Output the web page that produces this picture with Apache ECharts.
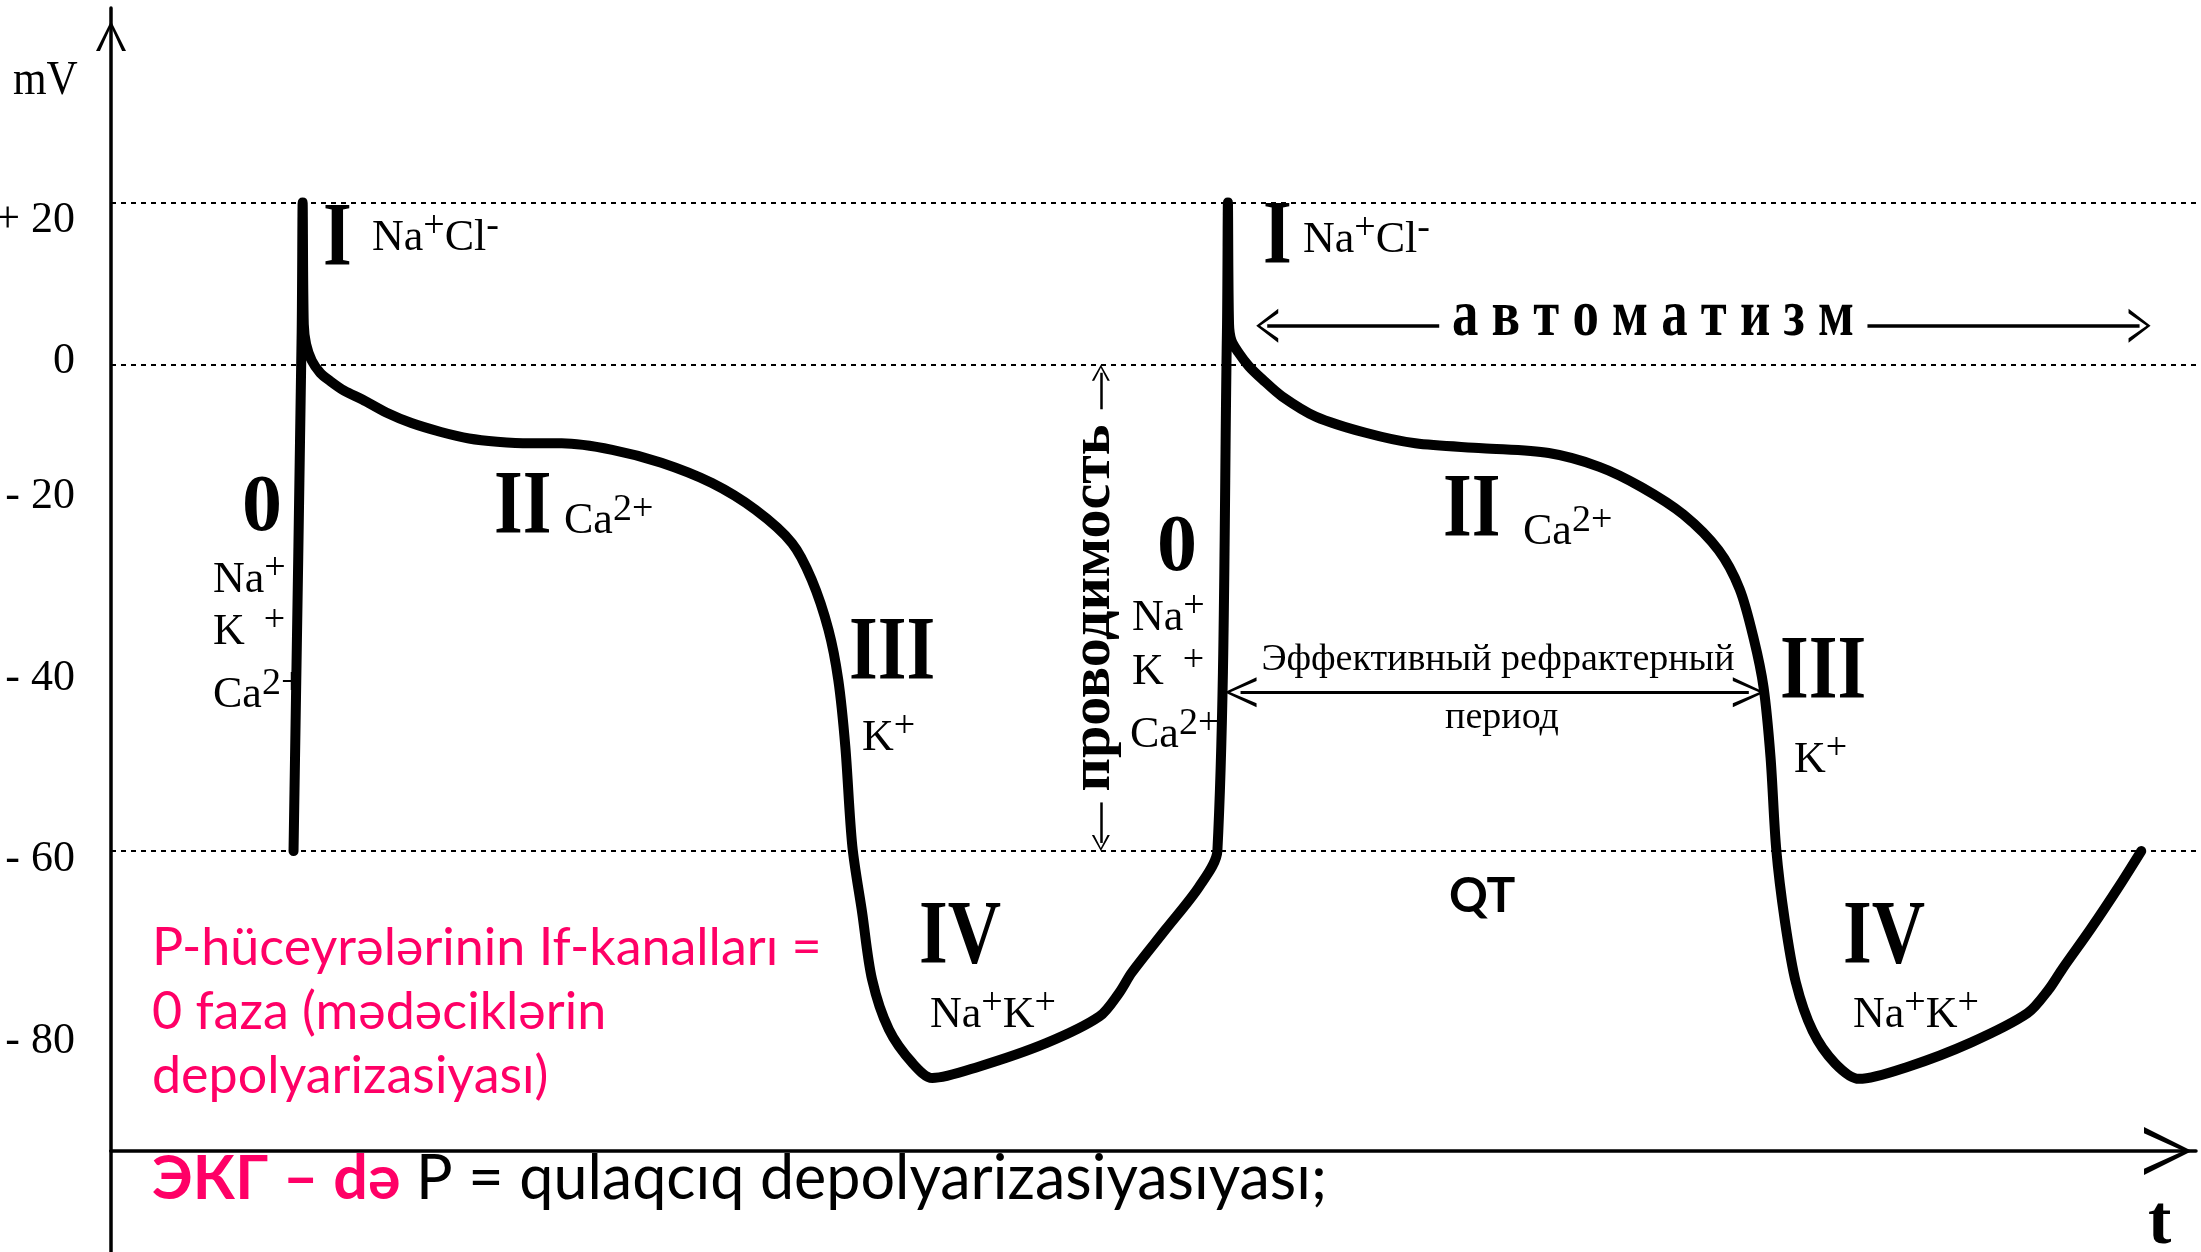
<!DOCTYPE html>
<html>
<head>
<meta charset="utf-8">
<script src="https://cdn.jsdelivr.net/npm/echarts@6/dist/echarts.min.js"></script>
<style>
  html, body { margin: 0; padding: 0; background: #fff; }
  #chart { width: 2201px; height: 1252px; }
</style>
</head>
<body>
<div id="chart"></div>
<script>
// first action potential (time in arbitrary units, membrane potential in mV)
const cycle1Time = [130, 135.8, 136.5, 137.3, 139, 143, 149, 156, 166, 179, 196, 214, 235, 255, 275, 298, 321, 357, 392, 428, 459, 485, 499, 511, 518, 523, 528, 535, 542, 554, 571, 585, 618, 666, 704, 718, 727, 751, 775, 788];
const cycle1Mv = [-60, 4, 20, 5, 2.5, 0.5, -1, -2, -3.2, -4.3, -5.9, -7.2, -8.3, -9.1, -9.5, -9.7, -9.7, -10.5, -12.1, -14.6, -17.9, -22, -26.5, -32.7, -38.9, -47.1, -59.4, -67.6, -75.8, -82, -86.2, -88, -86.6, -83.7, -80.4, -77.5, -75, -69.7, -64.4, -60];

// second action potential
const cycle2Time = [788, 794.8, 795.5, 796.3, 798, 803, 810.5, 820, 834, 858, 893.6, 929, 976.7, 1024, 1060, 1090, 1120, 1145, 1160, 1170, 1177, 1182, 1186, 1192, 1200, 1212, 1228, 1245, 1280, 1325, 1365, 1380, 1390, 1410, 1430, 1446];
const cycle2Mv = [-60, 4, 20, 5, 3, 1.5, -0.2, -1.8, -3.9, -6.4, -8.4, -9.7, -10.3, -10.9, -12.6, -15.1, -18.5, -22.9, -27.7, -33.8, -39.8, -48.5, -59.7, -68.4, -76.2, -82.2, -86.2, -88.1, -86.6, -83.6, -80, -77.1, -74.5, -69.6, -64.4, -60];

const yTicks = [-80, -60, -40, -20, 0, 20];
const refLevels = [20, 0, -60];

// annotation arrows (data units)
const refractory = { from: 804.5, to: 1166.5, mv: -40.4 };
const automatism = { leftTip: 823.5, leftEnd: 946, rightStart: 1251, rightTip: 1444.8, mv: 4.8 };
const conduction = { t: 705, topFrom: -5.5, topTo: -1, bottomFrom: -54, bottomTo: -59 };

const SERIF = '"Liberation Serif", "Times New Roman", serif';
const SANS = 'Lato, "Open Sans", sans-serif';
const PINK = '#ff0066';
const CHEVRON = 'path://M50,0 L100,100 L87,100 L50,18 L13,100 L0,100 Z';

// the hand-drawn tick labels sit a little off their grid values (px, + is down)
const labelNudge = { '20': 18, '0': -3, '-20': -30, '-40': -10, '-60': 8, '-80': 28 };

const trace = cycle1Time.map((t, i) => [t, cycle1Mv[i]])
  .concat(cycle2Time.map((t, i) => [t, cycle2Mv[i]]));

const tickRich = {};
yTicks.forEach(v => {
  const d = labelNudge[String(v)] || 0;
  tickRich['t' + (v < 0 ? 'm' + (-v) : v)] = {
    fontSize: 44, fontFamily: SERIF, color: '#000',
    padding: d >= 0 ? [2 * d, 0, 0, 0] : [0, 0, -2 * d, 0]
  };
});
function tickLabel(v) {
  const txt = v > 0 ? '+ ' + v : (v < 0 ? '- ' + (-v) : '0');
  return '{t' + (v < 0 ? 'm' + (-v) : v) + '|' + txt + '}';
}

function txt(text, x, baseline, size, family, weight, align, extra) {
  const k = family === SANS ? 0.39 : 0.34;
  return Object.assign({
    type: 'text', x: x, y: baseline - k * size, silent: true,
    style: {
      text: text, fontSize: size, fontFamily: family, fontWeight: weight || 'normal',
      fill: '#000', textAlign: align || 'left', textVerticalAlign: 'middle'
    }
  }, extra || {});
}

const ionRich = {
  m: { fontSize: 44, fontFamily: SERIF, lineHeight: 60, fill: '#000' },
  s: { fontSize: 38, fontFamily: SERIF, lineHeight: 20, verticalAlign: 'top', fill: '#000' },
  h: { fontSize: 38, fontFamily: SERIF, lineHeight: 2, verticalAlign: 'top', fill: '#000' }
};
function ion(text, x, baseline) {
  return {
    type: 'text', x: x, y: baseline + 15, silent: true,
    style: { text: text, rich: ionRich, textAlign: 'left', textVerticalAlign: 'bottom' }
  };
}
function roman(text, x, baseline) {
  return txt(text, x, baseline, 90, SERIF, 'bold', 'left', { scaleX: 0.82 });
}

const graphics = [
  // y axis continues below the time axis
  { type: 'line', silent: true, shape: { x1: 111, y1: 1150, x2: 111, y2: 1252 }, style: { stroke: '#000', lineWidth: 3.5 } },
  txt('mV', 13, 98, 48, SERIF, 'normal', 'left', { scaleX: 0.9 }),
  txt('t', 2148, 1249, 70, SERIF, 'bold'),

  roman('I', 323, 272), roman('I', 1263, 270),
  roman('II', 494, 540), roman('II', 1443, 543),
  roman('III', 849, 686), roman('III', 1780, 705),
  roman('IV', 919, 970), roman('IV', 1843, 970),
  txt('0', 242, 537, 80, SERIF, 'bold'),
  txt('0', 1157, 577, 80, SERIF, 'bold'),

  ion('{m|Na}{s|+}{m|Cl}{s|-}', 372, 253),
  ion('{m|Na}{s|+}{m|Cl}{s|-}', 1303, 255),
  ion('{m|Na}{s|+}', 213, 595), ion('{m|K}{s|  +}', 213, 647), ion('{m|Ca}{h|2+}', 213, 710),
  ion('{m|Na}{s|+}', 1132, 633), ion('{m|K}{s|  +}', 1132, 687), ion('{m|Ca}{h|2+}', 1130, 750),
  ion('{m|Ca}{h|2+}', 564, 536), ion('{m|Ca}{h|2+}', 1523, 547),
  ion('{m|K}{h|+}', 862, 753), ion('{m|K}{h|+}', 1794, 775),
  ion('{m|Na}{s|+}{m|K}{s|+}', 930, 1030), ion('{m|Na}{s|+}{m|K}{s|+}', 1853, 1030),

  txt('а в т о м а т и з м', 1653, 340, 66, SERIF, 'bold', 'center', { scaleX: 0.8 }),
  txt('Эффективный рефрактерный', 1498, 673, 38, SERIF, 'normal', 'center'),
  txt('период', 1502, 731, 38, SERIF, 'normal', 'center'),
  {
    type: 'text', x: 1094, y: 608, rotation: Math.PI / 2, silent: true,
    style: {
      text: 'проводимость', fontSize: 58, fontFamily: SERIF, fontWeight: 'bold', fill: '#000',
      textAlign: 'center', textVerticalAlign: 'middle'
    }
  },
  txt('QT', 1449, 915, 48, SANS, 'bold'),
  {
    type: 'text', x: 152, y: 916, silent: true,
    style: {
      text: 'P-hüceyrələrinin If-kanalları =\n0 faza (mədəciklərin\ndepolyarizasiyası)',
      fontSize: 52, fontFamily: SANS, fill: PINK, lineHeight: 64,
      textAlign: 'left', textVerticalAlign: 'top'
    }
  },
  {
    type: 'text', x: 152, y: 1203 - 0.39 * 61, silent: true,
    style: {
      text: '{p|ЭКГ – də}{k| P = qulaqcıq depolyarizasiyasıyası;}',
      rich: {
        p: { fontSize: 61, fontFamily: SANS, fontWeight: 'bold', fill: PINK },
        k: { fontSize: 61, fontFamily: SANS, fill: '#000' }
      },
      textAlign: 'left', textVerticalAlign: 'middle'
    }
  }
];

const solid = w => ({ type: 'solid', width: w, color: '#000' });
const markLines = refLevels.map(v => ({
  yAxis: v, lineStyle: { type: [5, 5], width: 2, color: '#000' }
})).concat([
  [
    { coord: [refractory.from, refractory.mv], symbol: CHEVRON, symbolSize: [30, 32], lineStyle: solid(3) },
    { coord: [refractory.to, refractory.mv], symbol: CHEVRON, symbolSize: [30, 32] }
  ],
  [
    { coord: [automatism.leftTip, automatism.mv], symbol: CHEVRON, symbolSize: [34, 22], lineStyle: solid(3.5) },
    { coord: [automatism.leftEnd, automatism.mv], symbol: 'none' }
  ],
  [
    { coord: [automatism.rightStart, automatism.mv], symbol: 'none', lineStyle: solid(3.5) },
    { coord: [automatism.rightTip, automatism.mv], symbol: CHEVRON, symbolSize: [34, 22] }
  ],
  [
    { coord: [conduction.t, conduction.topFrom], symbol: 'none', lineStyle: solid(2.5) },
    { coord: [conduction.t, conduction.topTo], symbol: CHEVRON, symbolSize: [18, 16] }
  ],
  [
    { coord: [conduction.t, conduction.bottomFrom], symbol: 'none', lineStyle: solid(2.5) },
    { coord: [conduction.t, conduction.bottomTo], symbol: CHEVRON, symbolSize: [18, 16] }
  ]
]);

const chart = echarts.init(document.getElementById('chart'));
chart.setOption({
  backgroundColor: '#fff',
  animation: false,
  grid: { left: 111, right: 5, top: 8, bottom: 101, containLabel: false, outerBoundsMode: 'none' },
  xAxis: {
    type: 'value', min: 0, max: 1485,
    axisLine: {
      onZero: false,
      lineStyle: { color: '#000', width: 3.5 },
      symbol: ['none', CHEVRON], symbolSize: [48, 56], symbolOffset: [0, -28]
    },
    axisTick: { show: false }, axisLabel: { show: false }, splitLine: { show: false }
  },
  yAxis: {
    type: 'value', min: -97, max: 44,
    axisLine: {
      show: true, onZero: false,
      lineStyle: { color: '#000', width: 3.5 },
      symbol: ['none', CHEVRON], symbolSize: [30, 56], symbolOffset: [0, -28]
    },
    axisTick: { show: false }, splitLine: { show: false },
    axisLabel: {
      customValues: yTicks,
      margin: 36, color: '#000', fontSize: 44, fontFamily: SERIF,
      formatter: tickLabel,
      rich: tickRich
    }
  },
  series: [{
    type: 'line',
    data: trace,
    showSymbol: false,
    smooth: 0.3,
    lineStyle: { color: '#000', width: 10, join: 'round', cap: 'round' },
    markLine: { silent: true, symbol: 'none', animation: false, label: { show: false }, data: markLines }
  }],
  graphic: graphics
});
</script>
</body>
</html>
